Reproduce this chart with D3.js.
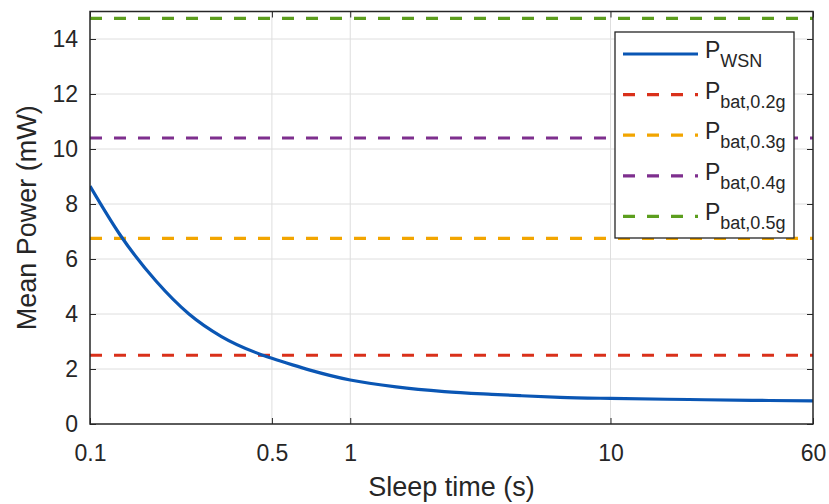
<!DOCTYPE html>
<html><head><meta charset="utf-8">
<script src="https://cdn.jsdelivr.net/npm/d3@7"></script>
<style>body{margin:0;background:#fff}svg{display:block}</style>
</head><body>
<svg id="c" width="829" height="504"></svg>
<script>
const sleepTime = [0.1,0.13,0.18,0.24,0.32,0.45,0.5,0.6,0.7,1,1.5,2.3,3.5,4.5,6.4,10,20,35,60];
const pWSN = [8.65,6.90,5.18,4.00,3.18,2.54,2.39,2.15,1.96,1.60,1.35,1.18,1.08,1.03,0.97,0.93,0.89,0.86,0.84];
const batNames = ["0.2g","0.3g","0.4g","0.5g"];
const batValues = [2.5,6.75,10.4,14.75];
const batColors = ["#d9301a","#f2a500","#7e2f8e","#5c9e1e"];
const xTicks = [0.1,0.5,1,10,60];
const yTicks = [0,2,4,6,8,10,12,14];

const svg = d3.select("#c");
const L=90,R=813,T=11.5,B=424;
const x = d3.scaleLog().domain([0.1,60]).range([L,R]);
const y = d3.scaleLinear().domain([0,15]).range([B,T]);
const font = "'Liberation Sans', Arial, sans-serif";
const txt = "#262626";

// grid
svg.append("g").selectAll("line").data(xTicks.slice(1,-1)).join("line")
  .attr("x1",d=>x(d)).attr("x2",d=>x(d)).attr("y1",T).attr("y2",B)
  .attr("stroke","#dedede").attr("stroke-width",1);
svg.append("g").selectAll("line").data(yTicks.slice(1)).join("line")
  .attr("x1",L).attr("x2",R).attr("y1",d=>y(d)).attr("y2",d=>y(d))
  .attr("stroke","#dedede").attr("stroke-width",1);

// axes (ticks inward)
const ax = svg.append("g").attr("transform",`translate(0,${B})`)
  .call(d3.axisBottom(x).tickValues(xTicks).tickFormat(d3.format("")).tickSizeInner(-6).tickSizeOuter(0).tickPadding(21));
const ay = svg.append("g").attr("transform",`translate(${L},0)`)
  .call(d3.axisLeft(y).tickValues(yTicks).tickSizeInner(-6).tickSizeOuter(0).tickPadding(12));
const axT = svg.append("g").attr("transform",`translate(0,${T})`)
  .call(d3.axisTop(x).tickValues(xTicks).tickFormat("").tickSizeInner(-6).tickSizeOuter(0));
const ayR = svg.append("g").attr("transform",`translate(${R},0)`)
  .call(d3.axisRight(y).tickValues(yTicks).tickFormat("").tickSizeInner(-6).tickSizeOuter(0));
[ax,ay,axT,ayR].forEach(g=>{
  g.select(".domain").remove();
  g.selectAll(".tick line").attr("stroke","#262626");
  g.selectAll("text").attr("font-family",font).attr("font-size",23).attr("fill",txt);
});

// data lines
const clipId="clip";
svg.append("clipPath").attr("id",clipId).append("rect").attr("x",L).attr("y",T).attr("width",R-L).attr("height",B-T);
const lg = svg.append("g").attr("clip-path",`url(#${clipId})`);
lg.selectAll("line.bat").data(batValues).join("line").attr("class","bat")
  .attr("x1",x(0.1)).attr("x2",x(60)).attr("y1",d=>y(d)).attr("y2",d=>y(d))
  .attr("stroke",(d,i)=>batColors[i]).attr("stroke-width",3.2).attr("stroke-dasharray","12,12");
const line = d3.line().x((d,i)=>x(sleepTime[i])).y(d=>y(d)).curve(d3.curveMonotoneX);
lg.append("path").datum(pWSN).attr("d",line).attr("fill","none")
  .attr("stroke","#0a56b4").attr("stroke-width",3.2);

// box
svg.append("rect").attr("x",L).attr("y",T).attr("width",R-L).attr("height",B-T)
  .attr("fill","none").attr("stroke","#262626").attr("stroke-width",1.5);

// axis labels
svg.append("text").attr("x",(L+R)/2).attr("y",496).attr("text-anchor","middle")
  .attr("font-family",font).attr("font-size",27).attr("fill",txt).text("Sleep time (s)");
svg.append("text").attr("transform",`translate(36,${(T+B)/2}) rotate(-90)`).attr("text-anchor","middle")
  .attr("font-family",font).attr("font-size",27).attr("fill",txt).text("Mean Power (mW)");

// legend
const legItems = [{sub:"WSN",color:"#0a56b4",dash:null}].concat(batNames.map((n,i)=>({sub:"bat,"+n,color:batColors[i],dash:"12,12"})));
const lgx=615,lgy=32,lgw=179,lgh=206;
svg.append("rect").attr("x",lgx).attr("y",lgy).attr("width",lgw).attr("height",lgh)
  .attr("fill","#fff").attr("stroke","#262626").attr("stroke-width",1.3);
const li = svg.append("g").selectAll("g").data(legItems).join("g")
  .attr("transform",(d,i)=>`translate(0,${54+i*40.6})`);
li.append("line").attr("x1",623).attr("x2",698).attr("y1",0).attr("y2",0)
  .attr("stroke",d=>d.color).attr("stroke-width",3.2).attr("stroke-dasharray",d=>d.dash);
const lt = li.append("text").attr("x",705).attr("y",4).attr("font-family",font).attr("fill",txt);
lt.append("tspan").attr("font-size",23).text("P");
lt.append("tspan").attr("font-size",18).attr("dy",9).text(d=>d.sub);
</script>
</body></html>
